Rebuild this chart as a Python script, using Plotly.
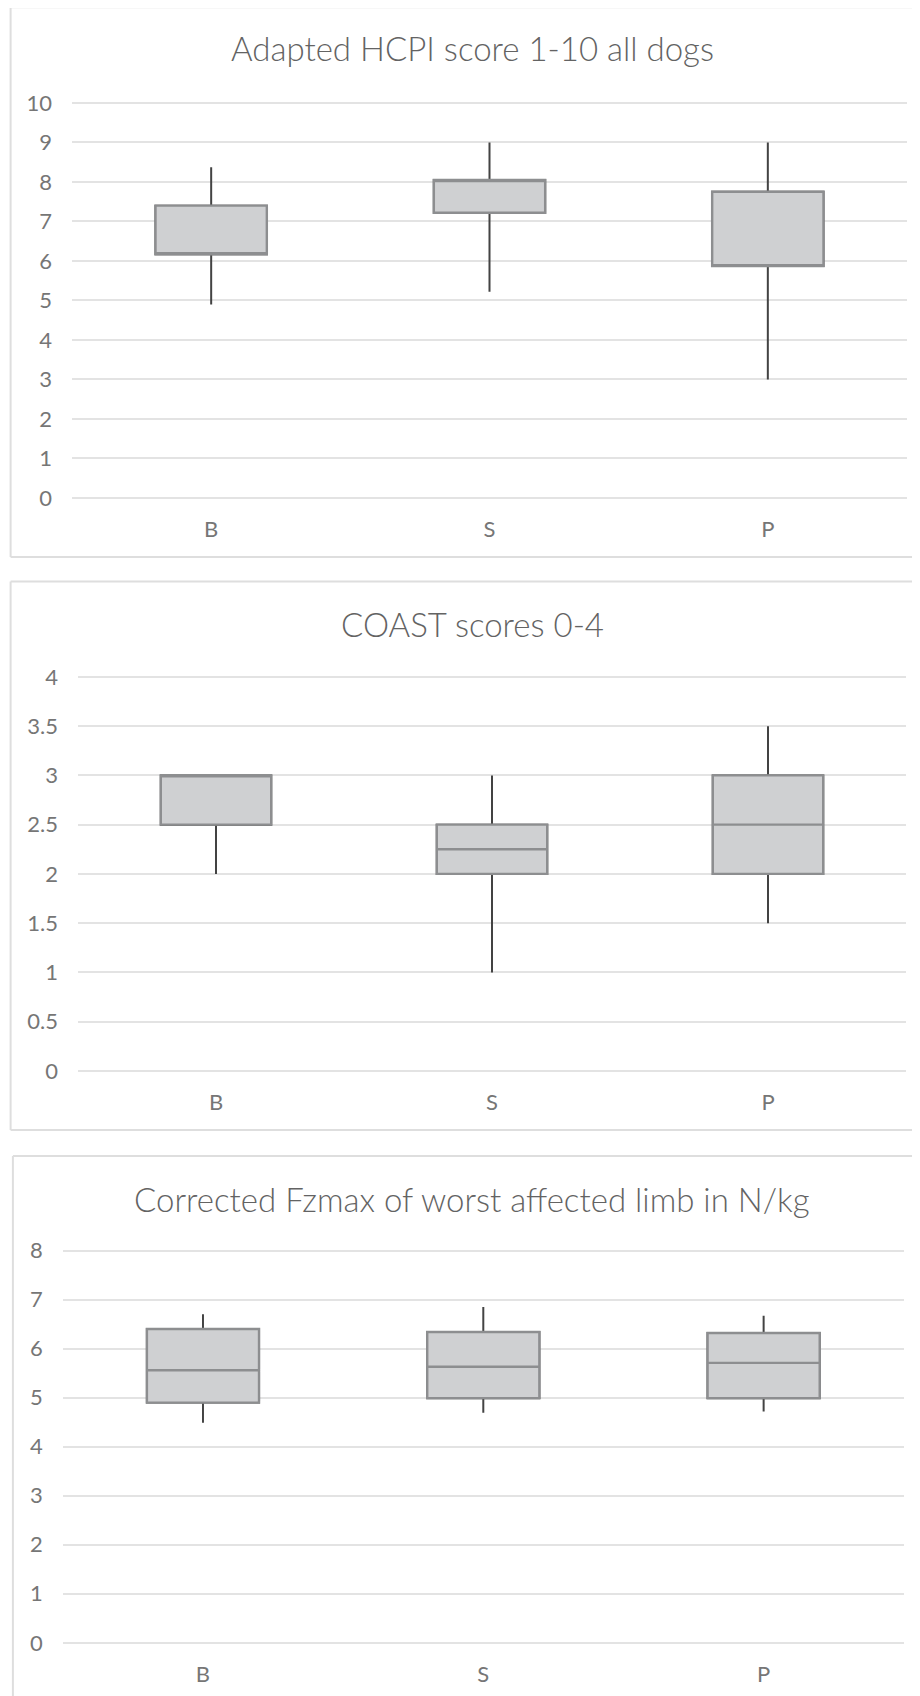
import plotly.graph_objects as go

W, H = 920, 1696
OFF = 8  # page body margin in the browser

categories = ["B", "S", "P"]

# Chart 1: Adapted HCPI score 1-10 all dogs
hcpi_lower = [4.9, 5.22, 3.0]
hcpi_q1 = [6.17, 7.22, 5.87]
hcpi_median = [6.17, 8.05, 5.87]
hcpi_q3 = [7.4, 8.05, 7.75]
hcpi_upper = [8.37, 9.0, 9.0]
hcpi_ticks = [0, 1, 2, 3, 4, 5, 6, 7, 8, 9, 10]
hcpi_ticktext = ["0", "1", "2", "3", "4", "5", "6", "7", "8", "9", "10"]

# Chart 2: COAST scores 0-4
coast_lower = [2.0, 1.0, 1.5]
coast_q1 = [2.5, 2.0, 2.0]
coast_median = [3.0, 2.25, 2.5]
coast_q3 = [3.0, 2.5, 3.0]
coast_upper = [3.0, 3.0, 3.5]
coast_ticks = [0, 0.5, 1, 1.5, 2, 2.5, 3, 3.5, 4]
coast_ticktext = ["0", "0.5", "1", "1.5", "2", "2.5", "3", "3.5", "4"]

# Chart 3: Corrected Fzmax of worst affected limb in N/kg
fz_lower = [4.49, 4.69, 4.72]
fz_q1 = [4.9, 4.99, 4.99]
fz_median = [5.56, 5.63, 5.71]
fz_q3 = [6.4, 6.34, 6.32]
fz_upper = [6.7, 6.85, 6.67]
fz_ticks = [0, 1, 2, 3, 4, 5, 6, 7, 8]
fz_ticktext = ["0", "1", "2", "3", "4", "5", "6", "7", "8"]

titles = ["Adapted HCPI score 1-10 all dogs", "COAST scores 0-4",
          "Corrected Fzmax of worst affected limb in N/kg"]

FONT = "Lato"
TXT = "#767676"
GRID = "#e3e3e3"
BOX_FILL = "#cfd0d2"
BOX_LINE = "#8d8e90"
WHISK = "#434343"


def py(px):
    return 1 - (px - OFF) / H


def pxx(px):
    return (px - OFF) / W


panels = [
    dict(lower=hcpi_lower, q1=hcpi_q1, med=hcpi_median, q3=hcpi_q3, upper=hcpi_upper,
         ticks=hcpi_ticks, ticktext=hcpi_ticktext, yr=[0, 10],
         xdom=[72, 907], ypx=[498, 102.9], title_y=48,
         border=[10.6, 7.3, 557]),
    dict(lower=coast_lower, q1=coast_q1, med=coast_median, q3=coast_q3, upper=coast_upper,
         ticks=coast_ticks, ticktext=coast_ticktext, yr=[0, 4],
         xdom=[78, 906], ypx=[1070.9, 676.9], title_y=624,
         border=[10.6, 581.5, 1130]),
    dict(lower=fz_lower, q1=fz_q1, med=fz_median, q3=fz_q3, upper=fz_upper,
         ticks=fz_ticks, ticktext=fz_ticktext, yr=[0, 8],
         xdom=[62.8, 903.8], ypx=[1642.8, 1250.6], title_y=1198.5,
         border=[12.9, 1156, 1720]),
]

fig = go.Figure()
shapes = []
annotations = []
layout_axes = {}
PADPX = 3

for i, p in enumerate(panels):
    n = "" if i == 0 else str(i + 1)
    xa, ya = "x" + n, "y" + n
    fig.add_trace(go.Box(
        x=categories, q1=p["q1"], median=p["med"], q3=p["q3"],
        lowerfence=p["lower"], upperfence=p["upper"],
        xaxis=xa, yaxis=ya, width=0.4, whiskerwidth=0,
        fillcolor=BOX_FILL, line=dict(color=WHISK, width=2),
        boxpoints=False, showlegend=False, hoverinfo="skip"))
    fig.add_trace(go.Box(
        x=categories, q1=p["q1"], median=p["med"], q3=p["q3"],
        lowerfence=p["q1"], upperfence=p["q3"],
        xaxis=xa, yaxis=ya, width=0.4, whiskerwidth=0,
        fillcolor=BOX_FILL, line=dict(color=BOX_LINE, width=2.4),
        boxpoints=False, showlegend=False, hoverinfo="skip"))

    lo, hi = p["yr"]
    bot_px, top_px = p["ypx"]
    upp = (bot_px - top_px) / (hi - lo)  # px per unit
    pad = PADPX / upp
    layout_axes["xaxis" + n] = dict(
        domain=[pxx(p["xdom"][0]), pxx(p["xdom"][1])], anchor=ya,
        type="category", categoryorder="array", categoryarray=categories,
        range=[-0.5, 2.5], showgrid=False, zeroline=False, showline=False,
        ticks="", ticklabelstandoff=13, fixedrange=True, automargin=False,
        tickfont=dict(family=FONT, size=22, color=TXT, weight=400))
    layout_axes["yaxis" + n] = dict(
        domain=[py(bot_px + PADPX), py(top_px - PADPX)], anchor=xa,
        range=[lo - pad, hi + pad], tickvals=p["ticks"], ticktext=p["ticktext"],
        showgrid=True, gridcolor=GRID, gridwidth=2, zeroline=False, showline=False,
        ticks="", ticklabelstandoff=19, fixedrange=True, automargin=False,
        tickfont=dict(family=FONT, size=22, color=TXT, weight=400))

    bx, by0, by1 = p["border"]
    bc = "#dedede"
    shapes.append(dict(type="line", xref="paper", yref="paper",
                       x0=pxx(bx), x1=1.05, y0=py(by0), y1=py(by0),
                       line=dict(color=bc, width=2)))
    shapes.append(dict(type="line", xref="paper", yref="paper",
                       x0=pxx(bx), x1=pxx(bx), y0=py(by0), y1=py(by1),
                       line=dict(color=bc, width=2)))
    shapes.append(dict(type="line", xref="paper", yref="paper",
                       x0=pxx(bx), x1=1.05, y0=py(by1), y1=py(by1),
                       line=dict(color=bc, width=2)))

    annotations.append(dict(text=titles[i], xref="paper", yref="paper",
                            x=pxx(472), y=py(p["title_y"]), xanchor="center", yanchor="middle",
                            showarrow=False,
                            font=dict(family=FONT, size=33, color="#636363", weight=300)))

fig.update_layout(
    width=W, height=H, margin=dict(l=0, r=0, t=0, b=0, autoexpand=False),
    paper_bgcolor="white", plot_bgcolor="white",
    boxmode="overlay", showlegend=False,
    shapes=shapes, annotations=annotations,
    **layout_axes)

fig.write_html("out.html")
